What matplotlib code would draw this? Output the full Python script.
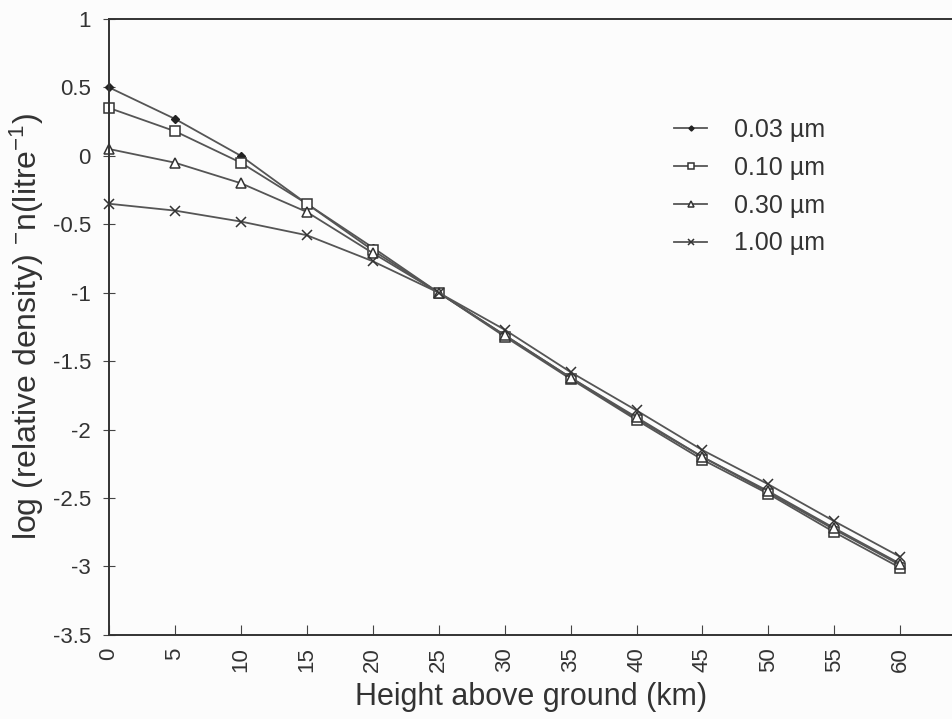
import matplotlib
matplotlib.use("Agg")
import matplotlib.pyplot as plt

plt.rcParams['font.family'] = ['Liberation Sans', 'DejaVu Sans']
plt.rcParams['mathtext.fontset'] = 'custom'
plt.rcParams['mathtext.rm'] = 'Liberation Sans'
plt.rcParams['mathtext.it'] = 'Liberation Sans:italic'
plt.rcParams['mathtext.bf'] = 'Liberation Sans:bold'

heights = [0, 5, 10, 15, 20, 25, 30, 35, 40, 45, 50, 55, 60]
d003 = [0.50, 0.27, 0.00, -0.35, -0.67, -1.00, -1.31, -1.62, -1.92, -2.20, -2.46, -2.73, -2.99]
d010 = [0.35, 0.18, -0.05, -0.35, -0.69, -1.00, -1.32, -1.63, -1.93, -2.22, -2.47, -2.75, -3.01]
d030 = [0.05, -0.05, -0.20, -0.41, -0.71, -1.00, -1.31, -1.62, -1.91, -2.20, -2.45, -2.72, -2.98]
d100 = [-0.35, -0.40, -0.48, -0.58, -0.77, -1.00, -1.27, -1.58, -1.86, -2.15, -2.40, -2.67, -2.93]
labels = ['0.03 µm', '0.10 µm', '0.30 µm', '1.00 µm']
yticks = [1, 0.5, 0, -0.5, -1, -1.5, -2, -2.5, -3, -3.5]
ytick_labels = ['1', '0.5', '0', '-0.5', '-1', '-1.5', '-2', '-2.5', '-3', '-3.5']

fig = plt.figure(figsize=(9.53, 7.19), dpi=100, facecolor='#fcfcfc')
ax = fig.add_axes([0.1144, 0.117, 0.8856, 0.8566])
ax.set_facecolor('#fcfcfc')

lc = '#555555'
kw = dict(color=lc, lw=1.3, clip_on=False)
ax.plot(heights, d003, marker='D', ms=4, mfc='#222222', mec='#222222', label=labels[0], **kw)
ax.plot(heights, d010, marker='s', ms=7, mfc='white', mec='#333333', mew=1.1, label=labels[1], **kw)
ax.plot(heights, d030, marker='^', ms=7.5, mfc='white', mec='#333333', mew=1.1, label=labels[2], **kw)
ax.plot(heights, d100, marker='x', ms=7, mec='#333333', mew=1.1, label=labels[3], **kw)

ax.set_xlim(0, 64.0)
ax.set_ylim(-3.5, 1)
ax.set_xticks(heights)
ax.set_xticklabels([str(h) for h in heights], rotation=90, fontsize=16, color='#333333')
ax.set_yticks(yticks)
ax.set_yticklabels(ytick_labels, fontsize=16, color='#333333')
ax.tick_params(axis='x', direction='in', length=7, color='#444444', pad=9)
ax.tick_params(axis='y', direction='inout', length=8, color='#444444', pad=9)

for s in ['left', 'bottom', 'top']:
    ax.spines[s].set_color('#333333')
    ax.spines[s].set_linewidth(1.4)
ax.spines['right'].set_visible(False)

ax.set_xlabel('Height above ground (km)', fontsize=22, color='#333333', labelpad=7)
ax.set_ylabel(r'log (relative density) $^{-}$n(litre$^{-1}$)', fontsize=23, color='#333333', labelpad=5)

leg = ax.legend(loc='upper left', bbox_to_anchor=(0.684, 0.867), bbox_transform=fig.transFigure,
                frameon=False, fontsize=18, handlelength=1.3, labelspacing=0.55,
                handletextpad=1.1, markerscale=0.65)
for t in leg.get_texts():
    t.set_color('#333333')

fig.savefig('out.png', dpi=100, facecolor=fig.get_facecolor())
